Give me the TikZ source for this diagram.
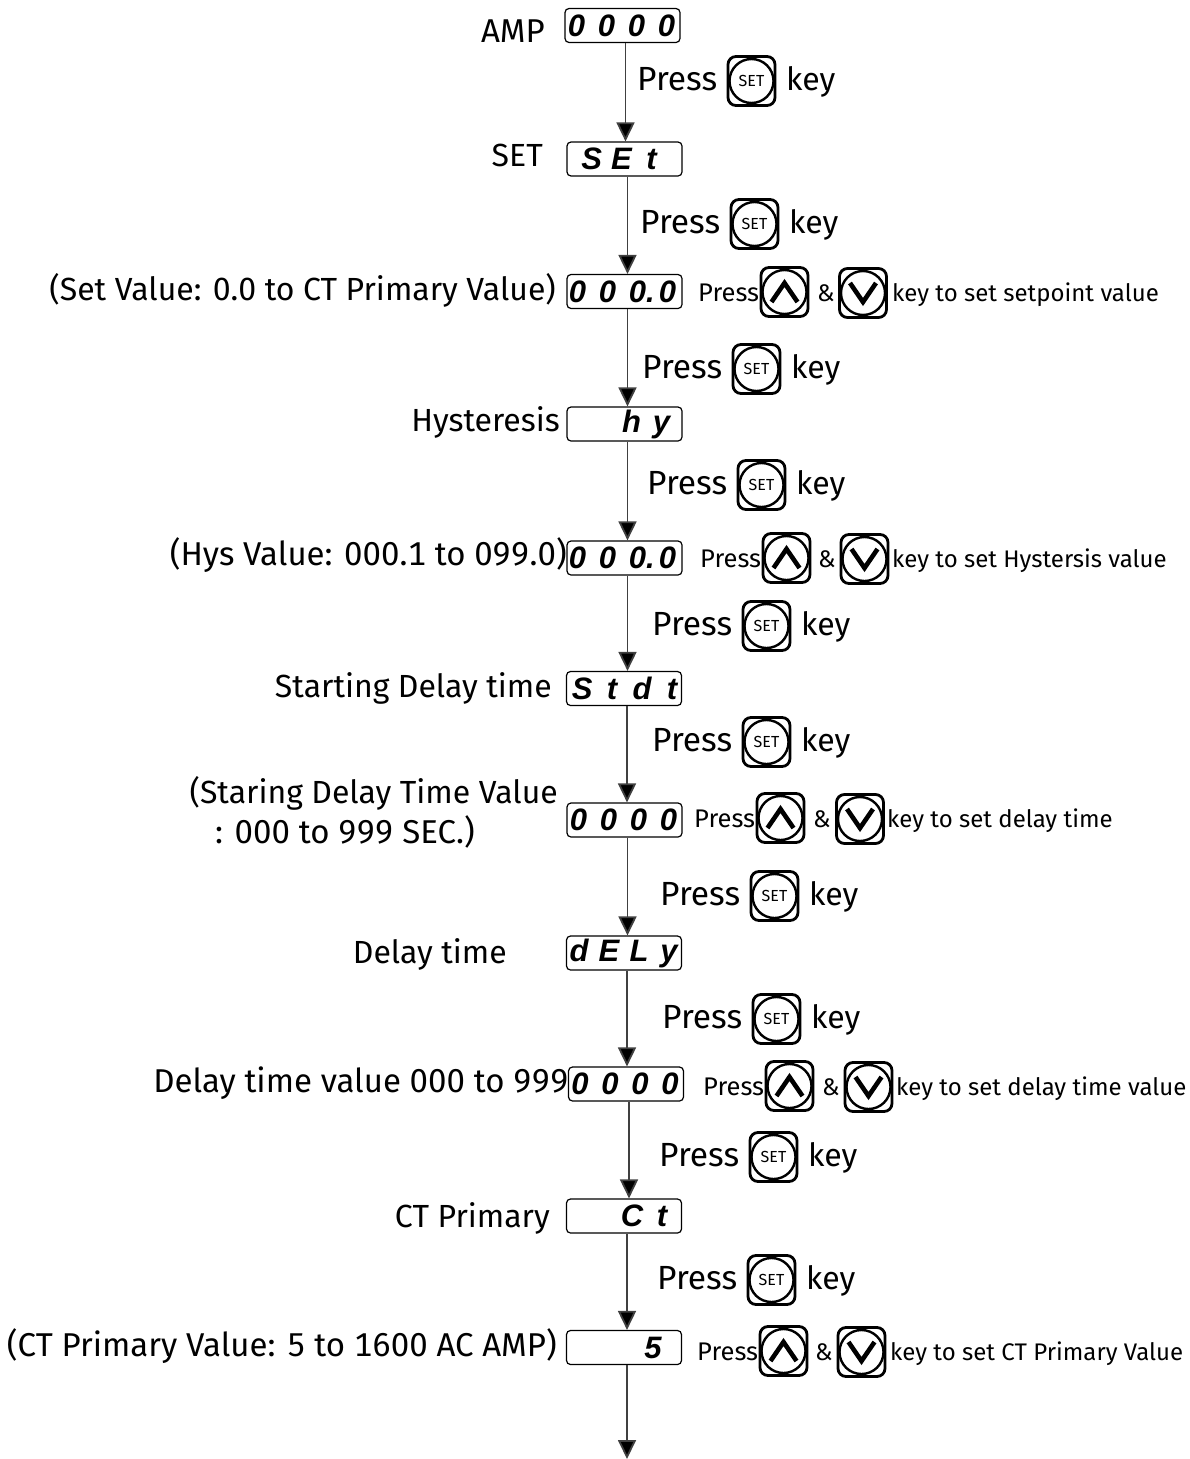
\documentclass[tikz,border=0pt]{standalone}
\usepackage{fontspec}
\setmainfont{Fira Sans}[Numbers={Monospaced,Lining}]
\newfontfamily\lcdfont{Liberation Sans}[BoldFont={Liberation Sans Bold},BoldItalicFont={Liberation Sans Bold Italic}]
\usetikzlibrary{calc, positioning}
\usetikzlibrary{arrows.meta}

\newcommand{\bigfont}{\fontsize{32}{36}\selectfont}
\newcommand{\widefont}{\fontsize{33}{36}\selectfont}
\newcommand{\smallfont}{\fontsize{24}{28}\selectfont}
\newcommand{\lc}[1]{\makebox[30pt]{#1}}

\tikzset{
  lcdbox/.style={draw, line width=1.2pt, rounded corners=4pt, minimum width=115pt, minimum height=34pt, inner sep=0pt},
  lcdtext/.style={anchor=west, inner sep=0pt, font={\lcdfont\bfseries\itshape\fontsize{31}{31}\selectfont}},
  leftlabel/.style={anchor=base east, inner sep=0pt, font=\bigfont},
  leftwide/.style={anchor=base east, inner sep=0pt, font=\widefont},
  bigtext/.style={anchor=base west, inner sep=0pt, font=\bigfont},
  pressbig/.style={anchor=base west, inner sep=0pt, font=\fontsize{33.5}{36}\selectfont},
  smalltext/.style={anchor=base west, inner sep=0pt, font=\smallfont},
  presssmall/.style={anchor=base west, inner sep=0pt, font=\fontsize{25.5}{28}\selectfont},
  keybox/.style={draw, line width=2.8pt, rounded corners=8pt, minimum width=47pt, minimum height=49pt, inner sep=0pt},
  keyring/.style={draw, circle, line width=2.4pt, minimum size=44pt, inner sep=0pt, font=\fontsize{16}{16}\selectfont},
  flowline/.style={draw=black!75, line width=1.8pt, -{Triangle[length=19pt,width=18pt,fill=black]}},
  chevron/.style={line width=4.6pt}
}

\newcommand{\setkey}[3]{
  \node[keybox] (#1) at (#2,#3) {};
  \node[keyring] (#1c) at (#2,#3) {SET};
}
\newcommand{\upkey}[3]{
  \node[keybox] (#1) at (#2,#3) {};
  \node[keyring] (#1c) at (#2,#3) {};
  \draw[chevron] ($(#1)+(-13,10)$) -- ($(#1)+(0,-9)$) -- ($(#1)+(13,10)$);
}
\newcommand{\downkey}[3]{
  \node[keybox] (#1) at (#2,#3) {};
  \node[keyring] (#1c) at (#2,#3) {};
  \draw[chevron] ($(#1)+(-13,-10)$) -- ($(#1)+(0,9)$) -- ($(#1)+(13,-10)$);
}

\begin{document}
\begin{tikzpicture}[x=1pt, y=-1pt]
\useasboundingbox (0,0) rectangle (1189,1459);

% display boxes
\foreach \name/\x/\y/\dx/\txt in {
  amp/622.5/25.5/-3/{\lc0\lc0\lc0\lc0},
  set/624.5/159/10/{\lc S\lc E\lc t},
  sval/624.5/291.5/-4/{\lc0\lc0\lc{0\rlap{.}}\lc0},
  hys/624.5/424/50/{\lc h\lc y},
  hval/624.5/558/-4/{\lc0\lc0\lc{0\rlap{.}}\lc0},
  stdt/624/688.5/1/{\lc S\lc t\lc d\lc t},
  dval/624.5/820/-3/{\lc0\lc0\lc0\lc0},
  dely/624/953/-2/{\lc d\lc E\lc L\lc y},
  tval/626/1084/-3/{\lc0\lc0\lc0\lc0},
  ct/624/1216/51/{\lc C\lc t},
  cval/624/1347.5/72/{\lc5}}{
  \node[lcdbox] (\name) at (\x,\y) {};
  \node[lcdtext] (\name t) at ([xshift=\dx pt]\name.west) {\txt};
}
\coordinate (stop) at (627,1459);

% connectors
\foreach \a/\b in {amp/set,set/sval,sval/hys,hys/hval,hval/stdt,stdt/dval,dval/dely,dely/tval,tval/ct,ct/cval}{
  \draw[flowline] ([xshift=3pt]\a.south) -- ([xshift=3pt]\a.south |- \b.north);
}
\draw[flowline] (cval.south -| stop) -- (stop);

% left labels
\node[leftwide] (lamp) at (545,42) {AMP};
\node[leftlabel] (lset) at (543,166) {SET};
\node[leftlabel] (lsval) at (556,300) {(Set Value: 0.0 to CT Primary Value)};
\node[leftlabel] (lhys) at (560,431) {Hysteresis};
\node[leftwide] (lhval) at (567,565) {(Hys Value: 000.1 to 099.0)};
\node[leftlabel] (lstdt) at (552,697) {Starting Delay time};
\node[leftlabel] (ldval) at (558,803) {(Staring Delay Time Value};
\node[leftwide] (ldvalb) at (475,843) {: 000 to 999 SEC.)};
\node[leftlabel] (ldely) at (507,963) {Delay time};
\node[leftwide] (ltval) at (569,1092) {Delay time value 000 to 999};
\node[leftlabel] (lct) at (550,1227) {CT Primary};
\node[leftwide] (lcval) at (557,1356) {(CT Primary Value: 5 to 1600 AC AMP)};

% press set rows
\foreach \i/\px/\py in {a/637/90,b/640/233,c/642/378,d/647/494,e/652/635,f/652/751,g/660/905,h/662/1028,i/659/1166,j/657/1289}{
  \node[pressbig] (press\i) at (\px,\py) {Press};
  \setkey{sk\i}{\px+114.5}{\py-9}
  \node[bigtext] (key\i) at (\px+149,\py) {key};
}

% press arrow rows
\foreach \i/\px/\py/\ux/\dn/\ax/\kx/\txt in {
  a/698/301/784.5/863/817/892/key to set setpoint value,
  b/700/567/786.5/864.5/818/892/key to set Hystersis value,
  c/694/827/780.5/860/813/887/key to set delay time,
  d/703/1095/789.5/868.5/822/896/key to set delay time value,
  e/697/1360/783.5/861.5/815/890/key to set CT Primary Value}{
  \node[presssmall] (pr\i) at (\px,\py) {Press};
  \upkey{up\i}{\ux}{\py-9}
  \node[smalltext] (amp\i) at (\ax,\py) {\&};
  \downkey{dn\i}{\dn}{\py-8}
  \node[smalltext] (txt\i) at (\kx,\py) {\txt};
}
\end{tikzpicture}
\end{document}
